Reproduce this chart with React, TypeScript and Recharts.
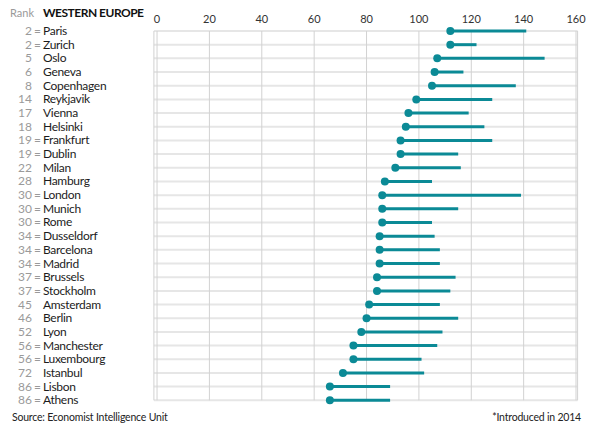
import { ComposedChart, XAxis, YAxis, CartesianGrid, Scatter, ReferenceLine } from 'recharts';

const cities = [
  'Paris', 'Zurich', 'Oslo', 'Geneva', 'Copenhagen', 'Reykjavik', 'Vienna', 'Helsinki', 'Frankfurt', 'Dublin',
  'Milan', 'Hamburg', 'London', 'Munich', 'Rome', 'Dusseldorf', 'Barcelona', 'Madrid', 'Brussels', 'Stockholm',
  'Amsterdam', 'Berlin', 'Lyon', 'Manchester', 'Luxembourg', 'Istanbul', 'Lisbon', 'Athens',
];
const ranks = [2, 2, 5, 6, 8, 14, 17, 18, 19, 19, 22, 28, 30, 30, 30, 34, 34, 34, 37, 37, 45, 46, 52, 56, 56, 72, 86, 86];
// dot = latest index, line runs out to the earlier value
const latest = [112, 112, 107, 106, 105, 99, 96, 95, 93, 93, 91, 87, 86, 86, 86, 85, 85, 85, 84, 84, 81, 80, 78, 75, 75, 71, 66, 66];
const earlier = [141, 122, 148, 117, 137, 128, 119, 125, 128, 115, 116, 105, 139, 115, 105, 106, 108, 108, 114, 112, 108, 115, 109, 107, 101, 102, 89, 89];
const xTicks = [0, 20, 40, 60, 80, 100, 120, 140, 160];

const TEAL = '#0b8a96';
const FONT = 'Lato, "Open Sans", sans-serif';

const data = cities.map((city, i) => ({
  idx: i,
  city,
  rank: ranks[i],
  tied: ranks.filter(r => r === ranks[i]).length > 1,
  latest: latest[i],
  earlier: earlier[i],
}));

const CityTick = (props: any) => {
  const { y, payload } = props;
  const d = data[payload.value];
  if (!d) return <g />;
  return (
    <g fontFamily={FONT}>
      <text x={32} y={y} dy={4} textAnchor="end" fontSize={12} fill="#9a9a9a">{d.rank}</text>
      {d.tied && <text x={37.5} y={y} dy={4} textAnchor="middle" fontSize={12} fill="#9a9a9a">=</text>}
      <text x={43} y={y} dy={4} textAnchor="start" fontSize={12} letterSpacing={-0.3} fill="#1c1c1c">{d.city}</text>
    </g>
  );
};

export default function App() {
  return (
    <div style={{ position: 'absolute', left: 0, top: 0, width: 600, height: 435, background: '#fff', fontFamily: FONT }}>
      <div style={{ position: 'absolute', right: 566, top: 6, fontSize: 11, color: '#9a9a9a' }}>Rank</div>
      <div style={{ position: 'absolute', left: 43, top: 5, fontSize: 12, letterSpacing: -0.5, fontWeight: 700, color: '#111' }}>WESTERN EUROPE</div>
      <ComposedChart width={600} height={435} data={data} margin={{ top: 1, right: 22.4, bottom: 34.7, left: 0 }}>
        <CartesianGrid horizontal vertical={false} stroke="#e6e6e6" strokeWidth={2} />
        <CartesianGrid horizontal={false} vertical stroke="#d2d2d2" strokeWidth={1} />
        <XAxis
          type="number" dataKey="latest" orientation="top" domain={[-1.2, 160.6]} allowDataOverflow
          ticks={xTicks} interval={0} height={30} axisLine={false} tickLine={false}
          tick={{ fill: '#333', fontSize: 11, fontFamily: FONT }}
        />
        <YAxis
          type="number" dataKey="idx" domain={[0, cities.length - 1]} reversed
          ticks={data.map(d => d.idx)} interval={0} width={153.9} axisLine={false} tickLine={false}
          tick={<CityTick />}
        />
        {data.map(d => (
          <ReferenceLine
            key={d.city}
            segment={[{ x: d.latest, y: d.idx }, { x: d.earlier, y: d.idx }]}
            stroke={TEAL} strokeWidth={3}
          />
        ))}
        <Scatter
          dataKey="idx" fill={TEAL} isAnimationActive={false}
          shape={(p: any) => <circle cx={p.cx} cy={p.cy} r={4} fill={TEAL} />}
        />
      </ComposedChart>
      <div style={{ position: 'absolute', left: 12, top: 411, fontSize: 10.5, letterSpacing: -0.2, color: '#222' }}>Source: Economist Intelligence Unit</div>
      <div style={{ position: 'absolute', right: 19, top: 411, fontSize: 10.5, letterSpacing: -0.2, color: '#222' }}>*Introduced in 2014</div>
    </div>
  );
}
